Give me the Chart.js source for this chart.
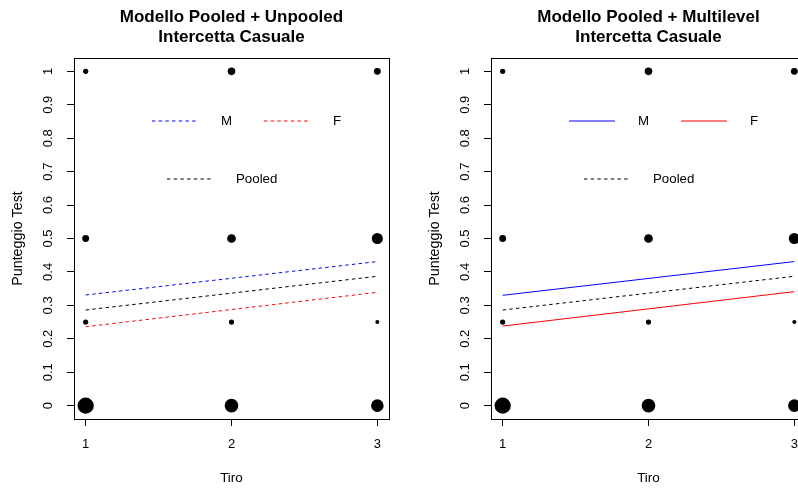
<!DOCTYPE html>
<html>
<head>
<meta charset="utf-8">
<script src="https://cdn.jsdelivr.net/npm/chart.js@4.4.1/dist/chart.umd.min.js"></script>
<style>
  html, body { margin: 0; padding: 0; background: #fff; }
  #wrap { position: relative; width: 798px; height: 489px; overflow: hidden; }
  canvas { position: absolute; top: 0; }
</style>
</head>
<body>
<div id="wrap">
  <canvas id="left" width="418" height="489" style="left:0"></canvas>
  <canvas id="right" width="418" height="489" style="left:417px"></canvas>
</div>
<script>
// Data
const tiro = [1, 2, 3]
const xTicks = [1, 2, 3]
const yTicks = [0, 0.1, 0.2, 0.3, 0.4, 0.5, 0.6, 0.7, 0.8, 0.9, 1]
const scoreLevels = [0, 0.25, 0.5, 1]

// number of observations per score level (0, 0.25, 0.5, 1), one list per tiro
const countsTiro1 = [28, 2, 4, 2]
const countsTiro2 = [19, 2, 7, 5]
const countsTiro3 = [16, 1, 12, 4]

// fitted lines, values at tiro 1 and tiro 3
const lineX = [1, 3]
const pooled = [0.286, 0.387]
const unpooledM = [0.331, 0.431]
const unpooledF = [0.236, 0.339]
const multilevelM = [0.330, 0.431]
const multilevelF = [0.238, 0.341]

const titleLeft = ['Modello Pooled + Unpooled', 'Intercetta Casuale']
const titleRight = ['Modello Pooled + Multilevel', 'Intercetta Casuale']
const legendRow1 = ['M', 'F']
const legendRow2 = ['Pooled']
const xTitle = 'Tiro'
const yTitle = 'Punteggio Test'

Chart.defaults.font.family = "'Liberation Sans', Arial, sans-serif"
Chart.defaults.color = '#000'

const BLUE = '#0000ff'
const RED = '#ff0000'
const BLACK = '#000000'
const DASH = [3.4, 3.3]

// R-like symbol size: area grows with the count
const radius = n => 0.6 + 1.42 * Math.sqrt(n)

function bubbleData() {
  const all = [countsTiro1, countsTiro2, countsTiro3]
  const pts = []
  tiro.forEach((t, i) => {
    scoreLevels.forEach((s, j) => {
      pts.push({ x: t, y: s, r: radius(all[i][j]) })
    })
  })
  return pts
}

function lineSet(label, values, color, dash) {
  return {
    type: 'line',
    label: label,
    data: lineX.map((x, i) => ({ x: x, y: values[i] })),
    borderColor: color,
    borderWidth: 1,
    borderDash: dash,
    pointRadius: 0,
    fill: false,
    tension: 0
  }
}

// box around the plot region, like R's box()
const rBox = {
  id: 'rBox',
  afterDraw(chart) {
    const { ctx, chartArea: a } = chart
    ctx.save()
    ctx.strokeStyle = '#000'
    ctx.lineWidth = 1
    const l = Math.round(a.left) + 0.5, t = Math.round(a.top) + 0.5
    const r = Math.round(a.right) + 0.5, b = Math.round(a.bottom) + 0.5
    ctx.strokeRect(l, t, r - l, b - t)
    ctx.restore()
  }
}

// two-line bold title centred over the plot region
const rTitle = {
  id: 'rTitle',
  afterDraw(chart, args, opts) {
    const { ctx, chartArea: a } = chart
    ctx.save()
    ctx.font = "bold 17px 'Liberation Sans', Arial, sans-serif"
    ctx.fillStyle = '#000'
    ctx.textAlign = 'center'
    ctx.textBaseline = 'alphabetic'
    const cx = (a.left + a.right) / 2
    opts.lines.forEach((txt, i) => ctx.fillText(txt, cx, 22 + i * 19.5))
    ctx.restore()
  }
}

// legend drawn inside the plot, without a frame
const rLegend = {
  id: 'rLegend',
  afterDraw(chart, args, opts) {
    const { ctx, chartArea: a } = chart
    ctx.save()
    ctx.font = "13.3px 'Liberation Sans', Arial, sans-serif"
    ctx.textBaseline = 'middle'
    ctx.textAlign = 'left'
    opts.rows.forEach(row => {
      const y = a.top + row.dy
      row.items.forEach((it, k) => {
        const x0 = a.left + row.dx + k * 112
        ctx.beginPath()
        ctx.strokeStyle = it.color
        ctx.lineWidth = 1
        ctx.setLineDash(it.dash)
        ctx.moveTo(x0, y)
        ctx.lineTo(x0 + 46, y)
        ctx.stroke()
        ctx.setLineDash([])
        ctx.fillStyle = '#000'
        ctx.fillText(it.label, x0 + 69, y)
      })
    })
    ctx.restore()
  }
}

function makeChart(id, title, mValues, fValues, mfDash) {
  const ctx = document.getElementById(id).getContext('2d')
  return new Chart(ctx, {
    type: 'bubble',
    data: {
      datasets: [
        lineSet('M', mValues, BLUE, mfDash),
        lineSet('F', fValues, RED, mfDash),
        lineSet('Pooled', pooled, BLACK, DASH),
        {
          label: 'obs',
          data: bubbleData(),
          backgroundColor: '#000',
          borderWidth: 0,
          hoverRadius: 0
        }
      ]
    },
    options: {
      responsive: false,
      animation: false,
      events: [],
      layout: { padding: { top: 58, right: 29, left: 0, bottom: 0 } },
      plugins: {
        legend: { display: false },
        tooltip: { enabled: false },
        title: { display: false },
        rTitle: { lines: title },
        rLegend: {
          rows: [
            { dx: 78, dy: 63, items: [
              { label: legendRow1[0], color: BLUE, dash: mfDash },
              { label: legendRow1[1], color: RED, dash: mfDash }
            ] },
            { dx: 93, dy: 121, items: [
              { label: legendRow2[0], color: BLACK, dash: DASH }
            ] }
          ]
        }
      },
      scales: {
        x: {
          type: 'linear',
          min: 0.92,
          max: 3.08,
          afterBuildTicks: axis => { axis.ticks = xTicks.map(v => ({ value: v })) },
          afterFit: axis => { axis.height = 70 },
          grid: { drawOnChartArea: false, drawTicks: true, tickLength: 7, color: '#000' },
          border: { display: false },
          ticks: { padding: 11, font: { size: 13 }, autoSkip: false, maxRotation: 0 },
          title: { display: true, text: xTitle, font: { size: 13.5 }, padding: { top: 0, bottom: 3 } }
        },
        y: {
          type: 'linear',
          min: -0.04,
          max: 1.04,
          afterBuildTicks: axis => { axis.ticks = yTicks.map(v => ({ value: v })) },
          afterFit: axis => { axis.width = 74 },
          grid: { drawOnChartArea: false, drawTicks: true, tickLength: 7, color: '#000' },
          border: { display: false },
          ticks: {
            padding: 10,
            font: { size: 13 },
            autoSkip: false,
            minRotation: 90,
            maxRotation: 90,
            crossAlign: 'center',
            callback: v => String(v)
          },
          title: { display: true, text: yTitle, font: { size: 14.3 }, padding: { top: 9, bottom: 0 } }
        }
      }
    },
    plugins: [rBox, rTitle, rLegend]
  })
}

makeChart('left', titleLeft, unpooledM, unpooledF, DASH)
makeChart('right', titleRight, multilevelM, multilevelF, [])
</script>
</body>
</html>
